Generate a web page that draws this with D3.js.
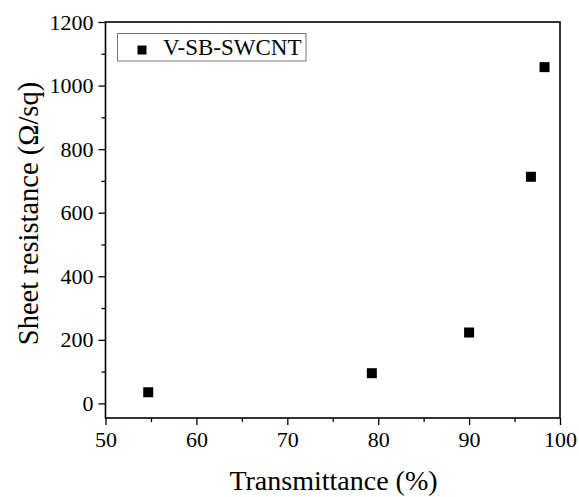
<!DOCTYPE html>
<html>
<head>
<meta charset="utf-8">
<script src="https://cdn.jsdelivr.net/npm/d3@7"></script>
<style>
  body { margin: 0; background: #fff; }
</style>
</head>
<body>
<div class="chart"></div>
<script>
// data
var transmittance = [54.7, 79.3, 90.0, 96.8, 98.3];
var resistance = [35, 95, 223, 713, 1058];
var seriesName = "V-SB-SWCNT";
var xTicks = [50, 60, 70, 80, 90, 100];
var yTicks = [0, 200, 400, 600, 800, 1000, 1200];

const width = 579, height = 497;
const margin = {left: 105.5, right: 19, top: 22, bottom: 79};
const serif = "Liberation Serif";

const svg = d3.select(".chart").append("svg")
    .attr("width", width)
    .attr("height", height)
    .attr("font-family", serif);

const x = d3.scaleLinear()
    .domain([50, 100])
    .range([margin.left, width - margin.right]);

const y = d3.scaleLinear()
    .domain([-46, 1200])
    .range([height - margin.bottom, margin.top]);

function styleAxis(g) {
    g.attr("font-family", serif).attr("font-size", 22);
    g.select(".domain").remove();
    g.selectAll("line").attr("stroke-width", 1.3);
    g.selectAll("text").attr("font-family", serif).attr("font-size", 22).attr("fill", "#000");
}

// x axis with minor ticks
const xMinor = d3.range(55, 100, 10);
svg.append("g")
    .attr("transform", `translate(0,${height - margin.bottom})`)
    .call(d3.axisBottom(x).tickValues(xMinor).tickSize(4).tickFormat(""))
    .call(styleAxis);

svg.append("g")
    .attr("transform", `translate(0,${height - margin.bottom})`)
    .call(d3.axisBottom(x).tickValues(xTicks).tickSize(7).tickPadding(6).tickFormat(d3.format("d")))
    .call(styleAxis);

// y axis with minor ticks
const yMinor = d3.range(100, 1200, 200);
svg.append("g")
    .attr("transform", `translate(${margin.left},0)`)
    .call(d3.axisLeft(y).tickValues(yMinor).tickSize(4).tickFormat(""))
    .call(styleAxis);

svg.append("g")
    .attr("transform", `translate(${margin.left},0)`)
    .call(d3.axisLeft(y).tickValues(yTicks).tickSize(7).tickPadding(5).tickFormat(d3.format("d")))
    .call(styleAxis);

// frame
svg.append("rect")
    .attr("x", margin.left)
    .attr("y", margin.top)
    .attr("width", width - margin.left - margin.right)
    .attr("height", height - margin.top - margin.bottom)
    .attr("fill", "none")
    .attr("stroke", "#000")
    .attr("stroke-width", 1.6);

// points
const size = 10;
svg.append("g")
    .selectAll("rect")
    .data(transmittance.map((t, i) => ({t: t, r: resistance[i]})))
    .enter().append("rect")
    .attr("x", d => x(d.t) - size / 2)
    .attr("y", d => y(d.r) - size / 2)
    .attr("width", size)
    .attr("height", size)
    .attr("fill", "#000");

// legend
const legend = svg.append("g");
legend.append("rect")
    .attr("x", 117.5)
    .attr("y", 33.5)
    .attr("width", 188.5)
    .attr("height", 27.5)
    .attr("fill", "#fff")
    .attr("stroke", "#777")
    .attr("stroke-width", 1);
legend.append("rect")
    .attr("x", 142 - 4.5)
    .attr("y", 50 - 4.5)
    .attr("width", 9)
    .attr("height", 9)
    .attr("fill", "#000");
legend.append("text")
    .attr("x", 163)
    .attr("y", 55)
    .attr("font-size", 23)
    .attr("font-family", serif)
    .text(seriesName);

// axis titles
svg.append("text")
    .attr("x", 333.5)
    .attr("y", 490)
    .attr("text-anchor", "middle")
    .attr("font-size", 28)
    .attr("font-family", serif)
    .text("Transmittance (%)");

svg.append("text")
    .attr("transform", "translate(38,213.5) rotate(-90)")
    .attr("text-anchor", "middle")
    .attr("font-size", 28.5)
    .attr("font-family", serif)
    .text("Sheet resistance (Ω/sq)");
</script>
</body>
</html>
